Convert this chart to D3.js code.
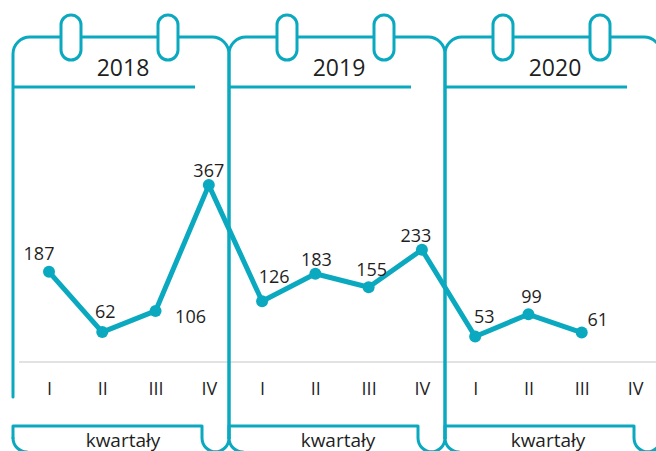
<!DOCTYPE html>
<html>
<head>
<meta charset="utf-8">
<script src="https://cdn.jsdelivr.net/npm/d3@7"></script>
<style>
  html, body { margin: 0; padding: 0; background: #fff; }
  svg { display: block; }
  text { font-family: "Open Sans", "Noto Sans", sans-serif; }
</style>
</head>
<body>
<svg id="chart" width="656" height="451"></svg>
<script>
// ---- data ----
const years = ["2018", "2019", "2020"];
const quarters = ["I", "II", "III", "IV"];
const values = [187, 62, 106, 367, 126, 183, 155, 233, 53, 99, 61];
const axisTitle = "kwartały";

// ---- layout / style ----
const W = 656, H = 451;
const teal = "#0aa9bf";
const textColor = "#1f1f1f";
// label offsets (dx, dy) relative to the point
const labelPos = [
  [-10, -12], [3, -14], [35, 12], [0, -8],
  [12, -18], [1, -8], [3, -11], [-6, -8],
  [9, -13], [3, -11], [16, -7]
];
const titleOffset = [110, 109, 103];

const svg = d3.select("#chart");

const categories = [];
years.forEach(yv => quarters.forEach(q => categories.push(yv + "-" + q)));

const x = d3.scalePoint().domain(categories).range([49, 635]);
const y = d3.scaleLinear().domain([0, 400]).range([362, 362 - 400 * 0.482]);

// baseline grid line
svg.append("line")
  .attr("x1", 19).attr("x2", W)
  .attr("y1", y(0)).attr("y2", y(0))
  .attr("stroke", "#d9d9d9").attr("stroke-width", 1.5);

// ---- calendars ----
const calW = 216, topY = 37, cr = 17, fr = 14, forkY = 438;
const cal = svg.append("g").attr("fill", "none").attr("stroke", teal)
  .attr("stroke-width", 3).attr("stroke-linecap", "round");

years.forEach((yr, i) => {
  const L = 13 + i * calW, R = L + calW;
  const p = d3.path();
  if (i === 0) p.moveTo(L, 397); else p.moveTo(L, forkY);
  p.lineTo(L, topY + cr);
  p.arcTo(L, topY, L + cr, topY, cr);
  p.lineTo(R - cr, topY);
  p.arcTo(R, topY, R, topY + cr, cr);
  p.lineTo(R, forkY);
  cal.append("path").attr("d", p.toString());

  // bottom forks at the right edge (shared vertical)
  const f = d3.path();
  f.moveTo(R, forkY);
  f.arcTo(R, forkY + fr, R - fr, forkY + fr, fr);
  f.moveTo(R, forkY);
  f.arcTo(R, forkY + fr, R + fr, forkY + fr, fr);
  cal.append("path").attr("d", f.toString());

  // header underline
  cal.append("line")
    .attr("x1", L).attr("x2", L + 182)
    .attr("y1", 87).attr("y2", 87)
    .attr("stroke-linecap", "butt");

  // bottom tab
  const tabR = L + 189;
  const t = d3.path();
  t.moveTo(L, forkY);
  t.lineTo(L, 426);
  t.lineTo(tabR, 426);
  t.lineTo(tabR, forkY);
  t.arcTo(tabR, forkY + fr, tabR + fr, forkY + fr, fr);
  cal.append("path").attr("d", t.toString()).attr("stroke-linejoin", "round");
  if (i === 0) {
    const t2 = d3.path();
    t2.moveTo(L, forkY);
    t2.arcTo(L, forkY + fr, L + fr, forkY + fr, fr);
    cal.append("path").attr("d", t2.toString());
  }

  // rings
  [58, 155].forEach(off => {
    cal.append("rect")
      .attr("x", L + off - 10).attr("y", 15)
      .attr("width", 20).attr("height", 45)
      .attr("rx", 10).attr("ry", 10)
      .attr("fill", "#fff");
  });

  // year label
  svg.append("text")
    .attr("x", L + 110).attr("y", 76)
    .attr("text-anchor", "middle")
    .attr("font-size", 23)
    .attr("fill", textColor)
    .text(yr);

  // axis title
  svg.append("text")
    .attr("x", L + titleOffset[i]).attr("y", 447)
    .attr("text-anchor", "middle")
    .attr("font-size", 19)
    .attr("fill", textColor)
    .text(axisTitle);
});

// ---- x axis (quarters) ----
const xAxis = d3.axisBottom(x)
  .tickSize(0)
  .tickPadding(0)
  .tickFormat(d => d.split("-")[1]);
const ax = svg.append("g")
  .attr("transform", "translate(0,382)")
  .call(xAxis);
ax.select(".domain").remove();
ax.selectAll("text")
  .attr("font-size", 18)
  .attr("font-family", "\"Open Sans\", \"Noto Sans\", sans-serif")
  .attr("fill", textColor);

// ---- line series ----
const pts = values.map((v, i) => ({ key: categories[i], v, i }));
const line = d3.line().x(d => x(d.key)).y(d => y(d.v));
svg.append("path")
  .datum(pts)
  .attr("d", line)
  .attr("fill", "none")
  .attr("stroke", teal)
  .attr("stroke-width", 5)
  .attr("stroke-linejoin", "round");

svg.selectAll("circle.pt")
  .data(pts)
  .join("circle")
  .attr("class", "pt")
  .attr("cx", d => x(d.key))
  .attr("cy", d => y(d.v))
  .attr("r", 6)
  .attr("fill", teal);

svg.selectAll("text.val")
  .data(pts)
  .join("text")
  .attr("class", "val")
  .attr("x", d => x(d.key) + labelPos[d.i][0])
  .attr("y", d => y(d.v) + labelPos[d.i][1])
  .attr("text-anchor", "middle")
  .attr("font-size", 18)
  .attr("fill", textColor)
  .text(d => d.v);
</script>
</body>
</html>
